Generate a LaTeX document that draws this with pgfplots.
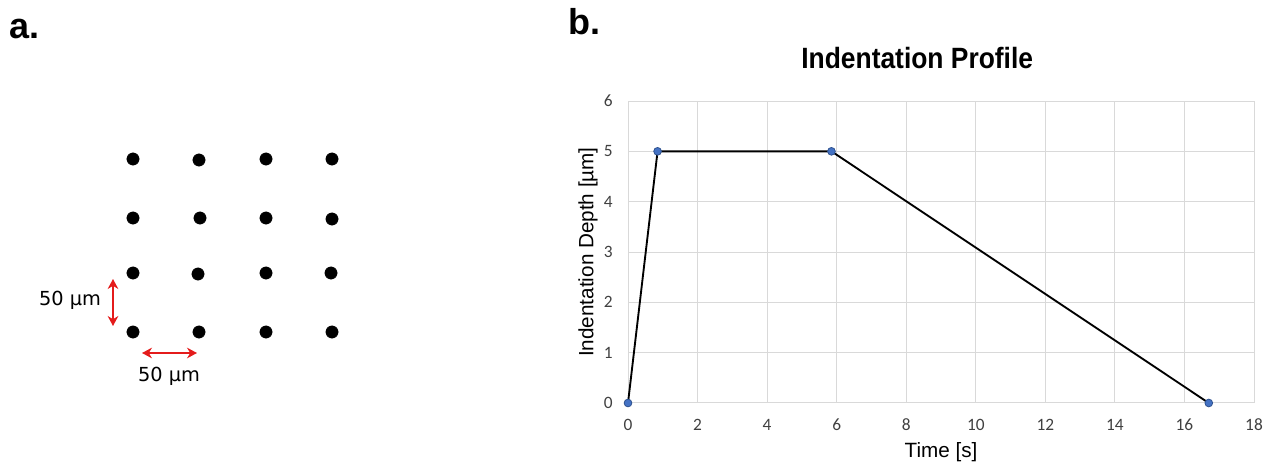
\documentclass[border=0pt]{standalone}
\usepackage{fontspec}
\setmainfont{Liberation Sans}
\newfontfamily\carlito{Carlito}
\newfontfamily\dejavu{DejaVu Sans}
\newfontfamily\titlefont[FakeStretch=0.9]{Liberation Sans}
\usepackage{pgfplots}
\pgfplotsset{compat=1.18}
\usetikzlibrary{arrows.meta}
\definecolor{arrowred}{HTML}{E41B1B}
\definecolor{ptblue}{HTML}{4472C4}
\definecolor{ptedge}{HTML}{2F528F}
\definecolor{gridgray}{HTML}{D9D9D9}
\definecolor{ticktxt}{HTML}{404040}
\begin{document}
\begin{tikzpicture}
% canvas axis in pixel coordinates (panel a)
\begin{axis}[
  at={(0,0)}, anchor=south west,
  scale only axis, width=955.5bp, height=349.5bp,
  xmin=0, xmax=1274, ymin=0, ymax=466, y dir=reverse,
  hide axis, clip=false]
\addplot[only marks, mark=*, mark size=4.6bp, black] coordinates {
 (133,159) (199,160) (266,159) (332,159)
 (133,218) (200,218) (266,218) (332,219)
 (133,273) (198,274) (266,273) (331,273)
 (133,332) (199,332) (266,332) (332,332)
};
\draw[arrowred, line width=2.2bp, {Stealth[length=7.5bp,width=8bp]}-{Stealth[length=7.5bp,width=8bp]}] (axis cs:113,279) -- (axis cs:113,326);
\draw[arrowred, line width=2.2bp, {Stealth[length=7.5bp,width=8bp]}-{Stealth[length=7.5bp,width=8bp]}] (axis cs:142,353) -- (axis cs:197,353);
\node[font=\dejavu\fontsize{14.5bp}{16bp}\selectfont, anchor=center] at (axis cs:70,300) {50 µm};
\node[font=\dejavu\fontsize{14.5bp}{16bp}\selectfont, anchor=center] at (axis cs:169,376) {50 µm};
\node[font=\bfseries\fontsize{27bp}{30bp}\selectfont, anchor=base west, inner sep=0pt] at (axis cs:9,38) {a.};
\node[font=\bfseries\fontsize{27bp}{30bp}\selectfont, anchor=base west, inner sep=0pt] at (axis cs:568,34) {b.};
\end{axis}
% panel b
\begin{axis}[
  at={(471bp,47.25bp)}, anchor=south west,
  scale only axis, width=469.5bp, height=226.5bp,
  xmin=0, xmax=18, ymin=0, ymax=6,
  xtick={0,2,...,18}, ytick={0,1,...,6},
  grid=major, grid style={draw=gridgray, line width=0.75bp},
  axis line style={draw=gridgray, line width=0.75bp},
  major tick length=0pt,
  /pgf/number format/assume math mode=true,
  tick label style={font=\carlito\fontsize{13bp}{14bp}\selectfont, text=ticktxt},
  xticklabel style={yshift=-8.5bp},
  yticklabel style={xshift=-8bp},
  title={Indentation Profile},
  title style={font=\titlefont\bfseries\fontsize{22bp}{24bp}\selectfont, at={(axis description cs:0.462,1.116)}, anchor=center},
  xlabel={Time [s]},
  xlabel style={font=\fontsize{15.5bp}{18bp}\selectfont, at={(axis description cs:0.5,-0.162)}, anchor=center},
  ylabel={Indentation Depth [µm]},
  ylabel style={font=\fontsize{15.5bp}{18bp}\selectfont, at={(axis description cs:-0.064,0.5)}, anchor=center},
  clip=false]
\addplot[black, line width=1.4bp, mark=*, mark size=2.9bp, mark options={fill=ptblue, draw=ptedge, line width=0.6bp}] coordinates {
 (0,0) (0.85,5) (5.85,5) (16.7,0)
};
\end{axis}
\path[use as bounding box] (0,0) rectangle (955.5bp,349.5bp);
\end{tikzpicture}
\end{document}
